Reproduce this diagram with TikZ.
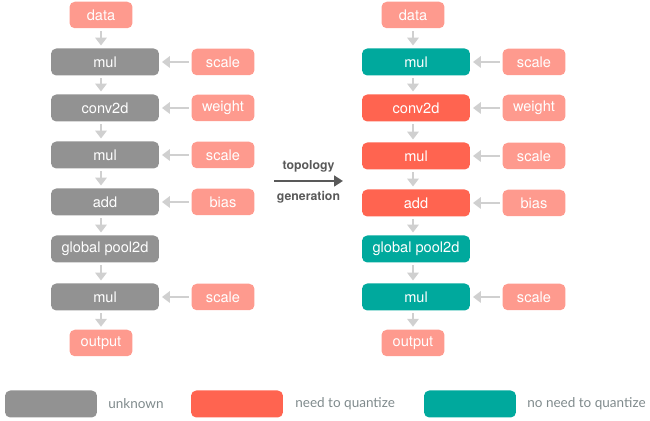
\documentclass[tikz,border=0pt]{standalone}
\usepackage{fontspec}
\setmainfont{TeX Gyre Heros}
\newfontfamily\legendfont{Lato}
\usetikzlibrary{arrows.meta}
\definecolor{unknowngray}{HTML}{929292}
\definecolor{quantred}{HTML}{FF6450}
\definecolor{noquantteal}{HTML}{00A99D}
\definecolor{inputpink}{HTML}{FE9A8E}
\definecolor{flowgray}{HTML}{D0D0D0}
\definecolor{legendtext}{HTML}{7F8A8C}
\definecolor{genarrow}{HTML}{595959}

\begin{document}
\begin{tikzpicture}[x=0.02cm,y=-0.02cm,
    box/.style={rounded corners=3pt, text=white, inner sep=0pt,
      font=\fontsize{8.3}{10}\selectfont},
    op/.style={box, minimum width=2.16cm, minimum height=0.54cm},
    inp/.style={box, fill=inputpink, minimum width=1.26cm, minimum height=0.53cm},
    unk/.style={op, fill=unknowngray},
    need/.style={op, fill=quantred},
    noneed/.style={op, fill=noquantteal},
    flow/.style={flowgray, line width=1.3pt, shorten >=1.5pt, shorten <=1.5pt,
      -{Triangle[width=6.5pt,length=4.5pt]}},
    legbox/.style={rounded corners=3pt, minimum width=1.84cm, minimum height=0.54cm},
    legtext/.style={text=legendtext, anchor=west, inner sep=0pt,
      font=\legendfont\fontsize{7.7}{10}\selectfont}]
  \useasboundingbox (0,0) rectangle (650,421);

  % left graph
  \node[inp] (ldata) at (101,15) {data};
  \node[unk] (lmul1) at (105,62) {mul};
  \node[inp] (lscale1) at (223,62) {scale};
  \node[unk] (lconv) at (105,108) {conv2d};
  \node[inp] (lweight) at (223,108) {weight};
  \node[unk] (lmul2) at (105,155) {mul};
  \node[inp] (lscale2) at (223,155) {scale};
  \node[unk] (ladd) at (105,202) {add};
  \node[inp] (lbias) at (223,202) {bias};
  \node[unk] (lpool) at (105,249) {global pool2d};
  \node[unk] (lmul3) at (105,297) {mul};
  \node[inp] (lscale3) at (223,297) {scale};
  \node[inp] (lout) at (101,343) {output};

  \draw[flow] (ldata) -- (ldata|-lmul1.north);
  \draw[flow] (ldata|-lmul1.south) -- (ldata|-lconv.north);
  \draw[flow] (ldata|-lconv.south) -- (ldata|-lmul2.north);
  \draw[flow] (ldata|-lmul2.south) -- (ldata|-ladd.north);
  \draw[flow] (ldata|-ladd.south) -- (ldata|-lpool.north);
  \draw[flow] (ldata|-lpool.south) -- (ldata|-lmul3.north);
  \draw[flow] (ldata|-lmul3.south) -- (lout);
  \draw[flow] (lscale1) -- (lmul1);
  \draw[flow] (lweight) -- (lconv);
  \draw[flow] (lscale2) -- (lmul2);
  \draw[flow] (lbias) -- (ladd);
  \draw[flow] (lscale3) -- (lmul3);

  % right graph
  \node[inp] (rdata) at (413,15) {data};
  \node[noneed] (rmul1) at (416,62) {mul};
  \node[inp] (rscale1) at (534,62) {scale};
  \node[need] (rconv) at (416,108) {conv2d};
  \node[inp] (rweight) at (534,108) {weight};
  \node[need] (rmul2) at (416,156) {mul};
  \node[inp] (rscale2) at (534,156) {scale};
  \node[need] (radd) at (416,203) {add};
  \node[inp] (rbias) at (534,203) {bias};
  \node[noneed] (rpool) at (416,249) {global pool2d};
  \node[noneed] (rmul3) at (416,297) {mul};
  \node[inp] (rscale3) at (534,297) {scale};
  \node[inp] (rout) at (413,343) {output};

  \draw[flow] (rdata) -- (rdata|-rmul1.north);
  \draw[flow] (rdata|-rmul1.south) -- (rdata|-rconv.north);
  \draw[flow] (rdata|-rconv.south) -- (rdata|-rmul2.north);
  \draw[flow] (rdata|-rmul2.south) -- (rdata|-radd.north);
  \draw[flow] (rdata|-radd.south) -- (rdata|-rpool.north);
  \draw[flow] (rdata|-rpool.south) -- (rdata|-rmul3.north);
  \draw[flow] (rdata|-rmul3.south) -- (rout);
  \draw[flow] (rscale1) -- (rmul1);
  \draw[flow] (rweight) -- (rconv);
  \draw[flow] (rscale2) -- (rmul2);
  \draw[flow] (rbias) -- (radd);
  \draw[flow] (rscale3) -- (rmul3);

  % topology generation
  \coordinate (genstart) at (274,181);
  \coordinate (genend) at (343,181);
  \draw[genarrow, line width=1.3pt, -{Triangle[width=6pt,length=5pt]}] (genstart) -- (genend)
    node[midway, above=1pt, font=\bfseries\fontsize{7}{8}\selectfont] {topology}
    node[midway, below=2pt, font=\bfseries\fontsize{7}{8}\selectfont] {generation};

  % legend
  \node[legbox, fill=unknowngray] (legunk) at (51,404) {};
  \node[legtext] (legunktext) at (108,404) {unknown};
  \node[legbox, fill=quantred] (legneed) at (237,404) {};
  \node[legtext] (legneedtext) at (295,404) {need to quantize};
  \node[legbox, fill=noquantteal] (legnoneed) at (470,404) {};
  \node[legtext] (legnoneedtext) at (527,404) {no need to quantize};
\end{tikzpicture}
\end{document}
